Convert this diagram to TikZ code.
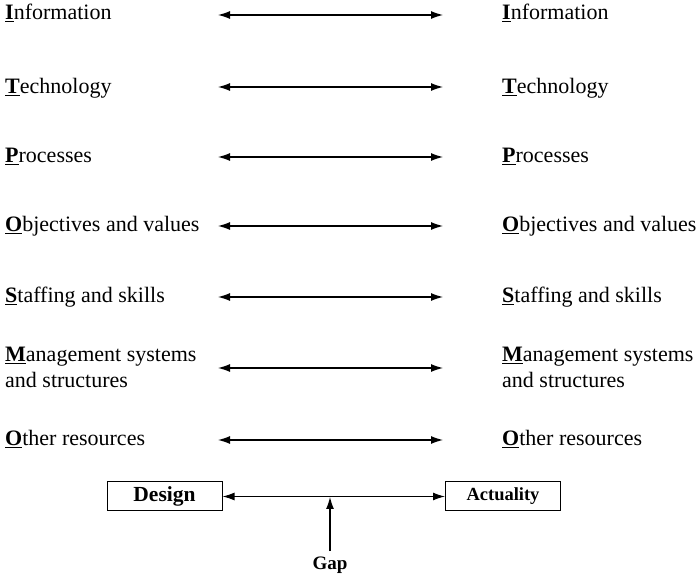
\documentclass[tikz,border=0pt]{standalone}
\usepackage{fontspec}
\setmainfont{Liberation Serif}
\usetikzlibrary{arrows.meta}

\tikzset{
  item/.style={anchor=base west, inner sep=0pt, align=left,
    font=\fontsize{22}{26}\selectfont},
  tag/.style={draw, line width=1pt, minimum width=115pt, minimum height=29pt,
    inner sep=0pt},
  link/.style={<->, line width=1.2pt},
}
\newcommand{\ini}[1]{\underline{\textbf{#1}}}

\begin{document}
\begin{tikzpicture}[x=1pt, y=-1pt, >={Latex[length=12pt,width=8pt]}]
	\useasboundingbox (0,0) rectangle (697,577);
	%\draw [help lines] (0,0) grid (697,577);

	% left column
	\node [item] (dI) at (5,20) {\ini{I}nformation};
	\node [item] (dT) at (5,94) {\ini{T}echnology};
	\node [item] (dP) at (5,163) {\ini{P}rocesses};
	\node [item] (dO) at (5,232) {\ini{O}bjectives and values};
	\node [item] (dS) at (5,303) {\ini{S}taffing and skills};
	\node [item] (dM) at (5,388) {\ini{M}anagement systems\\and structures};
	\node [item] (dR) at (5,446) {\ini{O}ther resources};

	% right column
	\node [item] (aI) at (502,20) {\ini{I}nformation};
	\node [item] (aT) at (502,94) {\ini{T}echnology};
	\node [item] (aP) at (502,163) {\ini{P}rocesses};
	\node [item] (aO) at (502,232) {\ini{O}bjectives and values};
	\node [item] (aS) at (502,303) {\ini{S}taffing and skills};
	\node [item] (aM) at (502,388) {\ini{M}anagement systems\\and structures};
	\node [item] (aR) at (502,446) {\ini{O}ther resources};

	% arrow ends
	\foreach \n/\y in {I/15, T/87, P/157, O/226, S/297, M/368, R/440} {
		\coordinate (l\n) at (218,\y);
		\coordinate (r\n) at (443,\y);
		\draw [link] (l\n) -- (r\n);
	}

	% bottom
	\node [tag, font=\fontsize{21.5}{24}\selectfont\bfseries] (design) at (164.5,496.5) {Design};
	\node [tag, font=\fontsize{18.5}{22}\selectfont\bfseries] (actual) at (503,496.5) {Actuality};
	\draw [link] (design) -- (actual);
	\node [font=\fontsize{19}{22}\selectfont\bfseries] (gap) at (330,565) {Gap};
	\coordinate (gaptop) at (330,497);
	\draw [->, line width=1.2pt] (gap.north) ++(0,-2) -- (gaptop);
\end{tikzpicture}
\end{document}
